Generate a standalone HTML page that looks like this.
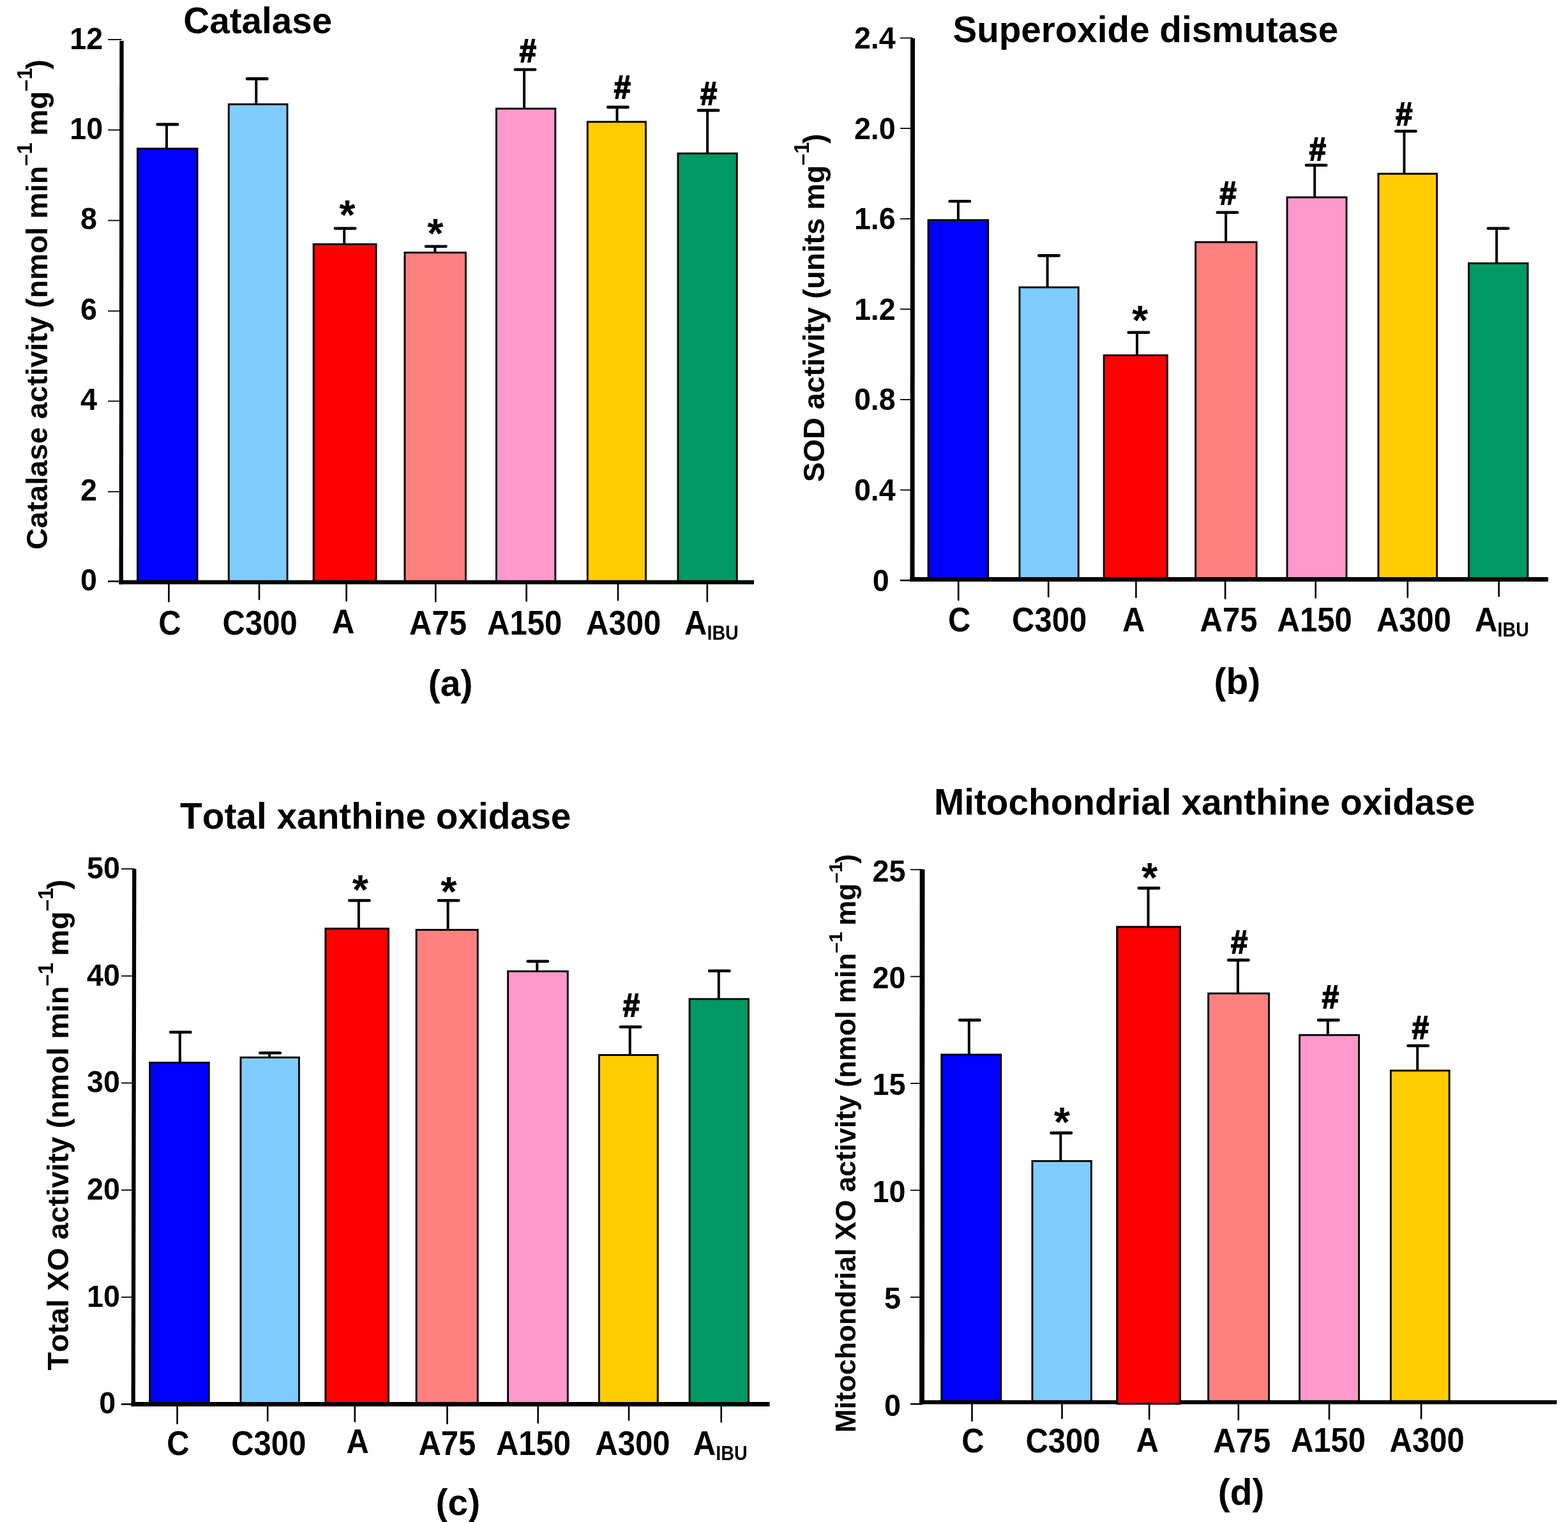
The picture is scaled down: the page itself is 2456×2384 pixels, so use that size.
<!DOCTYPE html>
<html lang="en"><head><meta charset="utf-8"><title>Antioxidant enzyme activities</title>
<style>
html,body{margin:0;padding:0;background:#fff;}
body{width:2456px;height:2384px;overflow:hidden;}
svg{display:block;}
svg text{font-family:"Liberation Sans",Arial,Helvetica,sans-serif;font-weight:bold;fill:#000;font-kerning:none;}
</style></head><body>
<svg width="2456" height="2384" viewBox="0 0 2456 2384">
<rect width="2456" height="2384" fill="#fff"/>
<g id="panel-a">
<line x1="261" y1="194.9" x2="261" y2="232.85" stroke="#000" stroke-width="4.0"/>
<line x1="246.7" y1="194.9" x2="278.1" y2="194.9" stroke="#000" stroke-width="4.6" stroke-linecap="round"/>
<rect x="215.45" y="232.85" width="93.6" height="679.15" fill="#0000ff" stroke="#000" stroke-width="2.9"/>
<line x1="401.3" y1="123.4" x2="401.3" y2="163.35" stroke="#000" stroke-width="4.0"/>
<line x1="387" y1="123.4" x2="418.4" y2="123.4" stroke="#000" stroke-width="4.6" stroke-linecap="round"/>
<rect x="358.25" y="163.35" width="91.8" height="748.65" fill="#80ccff" stroke="#000" stroke-width="2.9"/>
<line x1="539.2" y1="357.8" x2="539.2" y2="382.55" stroke="#000" stroke-width="4.0"/>
<line x1="524.9" y1="357.8" x2="556.3" y2="357.8" stroke="#000" stroke-width="4.6" stroke-linecap="round"/>
<rect x="491.15" y="382.55" width="97.9" height="529.45" fill="#ff0000" stroke="#000" stroke-width="2.9"/>
<line x1="681.4" y1="386" x2="681.4" y2="395.65" stroke="#000" stroke-width="4.0"/>
<line x1="667.1" y1="386" x2="698.5" y2="386" stroke="#000" stroke-width="4.6" stroke-linecap="round"/>
<rect x="633.95" y="395.65" width="95.5" height="516.35" fill="#ff8080" stroke="#000" stroke-width="2.9"/>
<line x1="821.1" y1="109" x2="821.1" y2="170.15" stroke="#000" stroke-width="4.0"/>
<line x1="806.8" y1="109" x2="838.2" y2="109" stroke="#000" stroke-width="4.6" stroke-linecap="round"/>
<rect x="777.45" y="170.15" width="92.4" height="741.85" fill="#ff99cc" stroke="#000" stroke-width="2.9"/>
<line x1="966.5" y1="167.9" x2="966.5" y2="190.85" stroke="#000" stroke-width="4.0"/>
<line x1="952.2" y1="167.9" x2="983.6" y2="167.9" stroke="#000" stroke-width="4.6" stroke-linecap="round"/>
<rect x="920.25" y="190.85" width="91.2" height="721.15" fill="#ffcc00" stroke="#000" stroke-width="2.9"/>
<line x1="1108.1" y1="172.9" x2="1108.1" y2="240.35" stroke="#000" stroke-width="4.0"/>
<line x1="1093.8" y1="172.9" x2="1125.2" y2="172.9" stroke="#000" stroke-width="4.6" stroke-linecap="round"/>
<rect x="1061.95" y="240.35" width="92.3" height="671.65" fill="#009966" stroke="#000" stroke-width="2.9"/>
<line x1="190.5" y1="64" x2="189.7" y2="915.15" stroke="#000" stroke-width="6.3"/>
<line x1="186.55" y1="912" x2="1181" y2="912" stroke="#000" stroke-width="6.3"/>
<line x1="169" y1="62" x2="190.5" y2="62" stroke="#000" stroke-width="1.8"/>
<text transform="translate(161.1 76.6) scale(0.9690 1)" font-size="48.2" text-anchor="end">12</text>
<line x1="169" y1="203.6" x2="190.5" y2="203.6" stroke="#000" stroke-width="1.8"/>
<text transform="translate(161.1 218) scale(0.9690 1)" font-size="48.2" text-anchor="end">10</text>
<line x1="169" y1="345.4" x2="190.5" y2="345.4" stroke="#000" stroke-width="1.8"/>
<text transform="translate(151.9 359.4) scale(0.9690 1)" font-size="48.2" text-anchor="end">8</text>
<line x1="169" y1="487.2" x2="190.5" y2="487.2" stroke="#000" stroke-width="1.8"/>
<text transform="translate(151.9 500.8) scale(0.9690 1)" font-size="48.2" text-anchor="end">6</text>
<line x1="169" y1="628.4" x2="190.5" y2="628.4" stroke="#000" stroke-width="1.8"/>
<text transform="translate(151.9 642.2) scale(0.9690 1)" font-size="48.2" text-anchor="end">4</text>
<line x1="169" y1="770.2" x2="190.5" y2="770.2" stroke="#000" stroke-width="1.8"/>
<text transform="translate(151.9 783.6) scale(0.9690 1)" font-size="48.2" text-anchor="end">2</text>
<line x1="169" y1="910.6" x2="190.5" y2="910.6" stroke="#000" stroke-width="2.6"/>
<text transform="translate(151.9 925) scale(0.9690 1)" font-size="48.2" text-anchor="end">0</text>
<line x1="264.4" y1="912" x2="264.4" y2="942.2" stroke="#000" stroke-width="2.6" stroke-linecap="round"/>
<line x1="406" y1="912" x2="406" y2="938.7" stroke="#000" stroke-width="2.6" stroke-linecap="round"/>
<line x1="542.6" y1="912" x2="542.6" y2="941" stroke="#000" stroke-width="2.6" stroke-linecap="round"/>
<line x1="682.3" y1="912" x2="682.3" y2="942.2" stroke="#000" stroke-width="2.6" stroke-linecap="round"/>
<line x1="824.6" y1="912" x2="824.6" y2="941.5" stroke="#000" stroke-width="2.6" stroke-linecap="round"/>
<line x1="968" y1="912" x2="968" y2="939.9" stroke="#000" stroke-width="2.6" stroke-linecap="round"/>
<line x1="1107.8" y1="912" x2="1107.8" y2="941.9" stroke="#000" stroke-width="2.6" stroke-linecap="round"/>
<text transform="translate(248.3 994) scale(0.9250 1)" font-size="53">C</text>
<text transform="translate(348.6 994) scale(0.9250 1)" font-size="53">C300</text>
<text transform="translate(520 992) scale(0.9250 1)" font-size="53">A</text>
<text transform="translate(641 994) scale(0.9250 1)" font-size="53">A75</text>
<text transform="translate(763 994) scale(0.9250 1)" font-size="53">A150</text>
<text transform="translate(918 994) scale(0.9250 1)" font-size="53">A300</text>
<text transform="translate(1072 994) scale(0.9250 1)" font-size="53">A<tspan font-size="31" dy="8">IBU</tspan></text>
<text transform="translate(544 359.4) scale(1.0000 1)" font-size="65" text-anchor="middle">*</text>
<text transform="translate(682 388.2) scale(1.0000 1)" font-size="65" text-anchor="middle">*</text>
<text transform="translate(826.8 97) scale(0.9400 1)" font-size="50" text-anchor="middle" stroke="#000" stroke-width="1.8">#</text>
<text transform="translate(974.8 153.8) scale(0.9400 1)" font-size="50" text-anchor="middle" stroke="#000" stroke-width="1.8">#</text>
<text transform="translate(1110 164) scale(0.9400 1)" font-size="50" text-anchor="middle" stroke="#000" stroke-width="1.8">#</text>
<text transform="translate(287.3 52.4) scale(0.9930 1)" font-size="57">Catalase</text>
<text transform="translate(74.1 860.91) rotate(-90) scale(0.9964 1)" font-size="46.8">Catalase activity (nmol min<tspan font-size="33" dy="-24">–1</tspan><tspan dy="24" dx="-2.5"> mg</tspan><tspan font-size="33" dy="-24">–1</tspan><tspan dy="24" dx="-2.5">)</tspan></text>
<text transform="translate(705.6 1089.5) scale(0.9870 1)" font-size="57.7" text-anchor="middle">(a)</text>
</g>
<g id="panel-b">
<line x1="1500.9" y1="315.2" x2="1500.9" y2="344.75" stroke="#000" stroke-width="4.0"/>
<line x1="1487.6" y1="315.2" x2="1519" y2="315.2" stroke="#000" stroke-width="4.6" stroke-linecap="round"/>
<rect x="1454.05" y="344.75" width="93.6" height="562.75" fill="#0000ff" stroke="#000" stroke-width="2.9"/>
<line x1="1640.6" y1="400.4" x2="1640.6" y2="450.05" stroke="#000" stroke-width="4.0"/>
<line x1="1627.3" y1="400.4" x2="1658.7" y2="400.4" stroke="#000" stroke-width="4.6" stroke-linecap="round"/>
<rect x="1596.95" y="450.05" width="92.3" height="457.45" fill="#80ccff" stroke="#000" stroke-width="2.9"/>
<line x1="1781" y1="520.7" x2="1781" y2="556.55" stroke="#000" stroke-width="4.0"/>
<line x1="1767.7" y1="520.7" x2="1799.1" y2="520.7" stroke="#000" stroke-width="4.6" stroke-linecap="round"/>
<rect x="1729.15" y="556.55" width="99.2" height="350.95" fill="#ff0000" stroke="#000" stroke-width="2.9"/>
<line x1="1920.1" y1="332.7" x2="1920.1" y2="379.25" stroke="#000" stroke-width="4.0"/>
<line x1="1906.8" y1="332.7" x2="1938.2" y2="332.7" stroke="#000" stroke-width="4.6" stroke-linecap="round"/>
<rect x="1872.65" y="379.25" width="95.5" height="528.25" fill="#ff8080" stroke="#000" stroke-width="2.9"/>
<line x1="2059.2" y1="258.8" x2="2059.2" y2="309.05" stroke="#000" stroke-width="4.0"/>
<line x1="2045.9" y1="258.8" x2="2077.3" y2="258.8" stroke="#000" stroke-width="4.6" stroke-linecap="round"/>
<rect x="2016.05" y="309.05" width="93" height="598.45" fill="#ff99cc" stroke="#000" stroke-width="2.9"/>
<line x1="2199.5" y1="205.5" x2="2199.5" y2="272.15" stroke="#000" stroke-width="4.0"/>
<line x1="2186.2" y1="205.5" x2="2217.6" y2="205.5" stroke="#000" stroke-width="4.6" stroke-linecap="round"/>
<rect x="2158.95" y="272.15" width="91.7" height="635.35" fill="#ffcc00" stroke="#000" stroke-width="2.9"/>
<line x1="2344.2" y1="357.8" x2="2344.2" y2="412.45" stroke="#000" stroke-width="4.0"/>
<line x1="2330.9" y1="357.8" x2="2362.3" y2="357.8" stroke="#000" stroke-width="4.6" stroke-linecap="round"/>
<rect x="2300.55" y="412.45" width="92.4" height="495.05" fill="#009966" stroke="#000" stroke-width="2.9"/>
<line x1="1429.6" y1="60" x2="1429" y2="911" stroke="#000" stroke-width="7"/>
<line x1="1425.5" y1="907.5" x2="2425" y2="907.5" stroke="#000" stroke-width="7"/>
<line x1="1410" y1="59.5" x2="1429.6" y2="59.5" stroke="#000" stroke-width="1.8"/>
<text transform="translate(1402.8 76) scale(0.9690 1)" font-size="48.2" text-anchor="end">2.4</text>
<line x1="1410" y1="201.1" x2="1429.6" y2="201.1" stroke="#000" stroke-width="1.8"/>
<text transform="translate(1402.8 217.6) scale(0.9690 1)" font-size="48.2" text-anchor="end">2.0</text>
<line x1="1410" y1="342.7" x2="1429.6" y2="342.7" stroke="#000" stroke-width="1.8"/>
<text transform="translate(1402.8 359.2) scale(0.9690 1)" font-size="48.2" text-anchor="end">1.6</text>
<line x1="1410" y1="484.3" x2="1429.6" y2="484.3" stroke="#000" stroke-width="1.8"/>
<text transform="translate(1402.8 500.8) scale(0.9690 1)" font-size="48.2" text-anchor="end">1.2</text>
<line x1="1410" y1="625.9" x2="1429.6" y2="625.9" stroke="#000" stroke-width="1.8"/>
<text transform="translate(1402.8 642.4) scale(0.9690 1)" font-size="48.2" text-anchor="end">0.8</text>
<line x1="1410" y1="767.5" x2="1429.6" y2="767.5" stroke="#000" stroke-width="1.8"/>
<text transform="translate(1402.8 784) scale(0.9690 1)" font-size="48.2" text-anchor="end">0.4</text>
<line x1="1410" y1="909.1" x2="1429.6" y2="909.1" stroke="#000" stroke-width="2.6"/>
<text transform="translate(1392.8 925.6) scale(0.9690 1)" font-size="48.2" text-anchor="end">0</text>
<line x1="1501.2" y1="907.5" x2="1501.2" y2="939.8" stroke="#000" stroke-width="2.6" stroke-linecap="round"/>
<line x1="1642.2" y1="907.5" x2="1642.2" y2="934.6" stroke="#000" stroke-width="2.6" stroke-linecap="round"/>
<line x1="1779.4" y1="907.5" x2="1779.4" y2="935.6" stroke="#000" stroke-width="2.6" stroke-linecap="round"/>
<line x1="1919.1" y1="907.5" x2="1919.1" y2="937.5" stroke="#000" stroke-width="2.6" stroke-linecap="round"/>
<line x1="2060.7" y1="907.5" x2="2060.7" y2="936.3" stroke="#000" stroke-width="2.6" stroke-linecap="round"/>
<line x1="2204.8" y1="907.5" x2="2204.8" y2="935.6" stroke="#000" stroke-width="2.6" stroke-linecap="round"/>
<line x1="2347.7" y1="907.5" x2="2347.7" y2="933.8" stroke="#000" stroke-width="2.6" stroke-linecap="round"/>
<text transform="translate(1484.9 989.2) scale(0.9250 1)" font-size="53">C</text>
<text transform="translate(1585.1 989.2) scale(0.9250 1)" font-size="53">C300</text>
<text transform="translate(1758.1 989.2) scale(0.9250 1)" font-size="53">A</text>
<text transform="translate(1879.6 989.2) scale(0.9250 1)" font-size="53">A75</text>
<text transform="translate(2000.6 989.2) scale(0.9250 1)" font-size="53">A150</text>
<text transform="translate(2155.9 989.2) scale(0.9250 1)" font-size="53">A300</text>
<text transform="translate(2310.1 989.2) scale(0.9250 1)" font-size="53">A<tspan font-size="31" dy="8">IBU</tspan></text>
<text transform="translate(1785.6 524) scale(1.0000 1)" font-size="65" text-anchor="middle">*</text>
<text transform="translate(1923.5 319.5) scale(0.9400 1)" font-size="50" text-anchor="middle" stroke="#000" stroke-width="1.8">#</text>
<text transform="translate(2063.8 250.6) scale(0.9400 1)" font-size="50" text-anchor="middle" stroke="#000" stroke-width="1.8">#</text>
<text transform="translate(2199.2 195.5) scale(0.9400 1)" font-size="50" text-anchor="middle" stroke="#000" stroke-width="1.8">#</text>
<text transform="translate(1492.4 66.4) scale(0.9930 1)" font-size="57">Superoxide dismutase</text>
<text transform="translate(1290.7 754.94) rotate(-90) scale(0.9938 1)" font-size="46.8">SOD activity (units mg<tspan font-size="33" dy="-24">–1</tspan><tspan dy="24" dx="-2.5">)</tspan></text>
<text transform="translate(1937.9 1087) scale(0.9870 1)" font-size="57.7" text-anchor="middle">(b)</text>
</g>
<g id="panel-c">
<line x1="281.8" y1="1616.7" x2="281.8" y2="1664.45" stroke="#000" stroke-width="4.0"/>
<line x1="267.1" y1="1616.7" x2="298.5" y2="1616.7" stroke="#000" stroke-width="4.6" stroke-linecap="round"/>
<rect x="234.75" y="1664.45" width="92.5" height="534.95" fill="#0000ff" stroke="#000" stroke-width="2.9"/>
<line x1="422.1" y1="1649.2" x2="422.1" y2="1656.35" stroke="#000" stroke-width="4.0"/>
<line x1="407.4" y1="1649.2" x2="438.8" y2="1649.2" stroke="#000" stroke-width="4.6" stroke-linecap="round"/>
<rect x="376.95" y="1656.35" width="91.5" height="543.05" fill="#80ccff" stroke="#000" stroke-width="2.9"/>
<line x1="561.9" y1="1410.5" x2="561.9" y2="1454.55" stroke="#000" stroke-width="4.0"/>
<line x1="547.2" y1="1410.5" x2="578.6" y2="1410.5" stroke="#000" stroke-width="4.6" stroke-linecap="round"/>
<rect x="509.85" y="1454.55" width="98.7" height="744.85" fill="#ff0000" stroke="#000" stroke-width="2.9"/>
<line x1="701.6" y1="1410.5" x2="701.6" y2="1456.45" stroke="#000" stroke-width="4.0"/>
<line x1="686.9" y1="1410.5" x2="718.3" y2="1410.5" stroke="#000" stroke-width="4.6" stroke-linecap="round"/>
<rect x="652.15" y="1456.45" width="96.1" height="742.95" fill="#ff8080" stroke="#000" stroke-width="2.9"/>
<line x1="841.3" y1="1505.8" x2="841.3" y2="1521.45" stroke="#000" stroke-width="4.0"/>
<line x1="826.6" y1="1505.8" x2="858" y2="1505.8" stroke="#000" stroke-width="4.6" stroke-linecap="round"/>
<rect x="795.65" y="1521.45" width="93.6" height="677.95" fill="#ff99cc" stroke="#000" stroke-width="2.9"/>
<line x1="986.7" y1="1608.5" x2="986.7" y2="1652.55" stroke="#000" stroke-width="4.0"/>
<line x1="972" y1="1608.5" x2="1003.4" y2="1608.5" stroke="#000" stroke-width="4.6" stroke-linecap="round"/>
<rect x="938.45" y="1652.55" width="91.8" height="546.85" fill="#ffcc00" stroke="#000" stroke-width="2.9"/>
<line x1="1125.8" y1="1520.8" x2="1125.8" y2="1564.85" stroke="#000" stroke-width="4.0"/>
<line x1="1111.1" y1="1520.8" x2="1142.5" y2="1520.8" stroke="#000" stroke-width="4.6" stroke-linecap="round"/>
<rect x="1080.05" y="1564.85" width="92.4" height="634.55" fill="#009966" stroke="#000" stroke-width="2.9"/>
<line x1="210.3" y1="1361" x2="208.7" y2="2202.9" stroke="#000" stroke-width="6.3"/>
<line x1="205.55" y1="2199.4" x2="1205.5" y2="2199.4" stroke="#000" stroke-width="7"/>
<line x1="190" y1="1361" x2="210.3" y2="1361" stroke="#000" stroke-width="1.8"/>
<text transform="translate(188 1375.8) scale(0.9690 1)" font-size="48.2" text-anchor="end">50</text>
<line x1="190" y1="1528.7" x2="210.3" y2="1528.7" stroke="#000" stroke-width="1.8"/>
<text transform="translate(188 1543.5) scale(0.9690 1)" font-size="48.2" text-anchor="end">40</text>
<line x1="190" y1="1696.4" x2="210.3" y2="1696.4" stroke="#000" stroke-width="1.8"/>
<text transform="translate(188 1711.2) scale(0.9690 1)" font-size="48.2" text-anchor="end">30</text>
<line x1="190" y1="1864.1" x2="210.3" y2="1864.1" stroke="#000" stroke-width="1.8"/>
<text transform="translate(188 1878.9) scale(0.9690 1)" font-size="48.2" text-anchor="end">20</text>
<line x1="190" y1="2031.8" x2="210.3" y2="2031.8" stroke="#000" stroke-width="1.8"/>
<text transform="translate(188 2046.6) scale(0.9690 1)" font-size="48.2" text-anchor="end">10</text>
<line x1="190" y1="2199.5" x2="210.3" y2="2199.5" stroke="#000" stroke-width="2.6"/>
<text transform="translate(181.3 2214.3) scale(0.9690 1)" font-size="48.2" text-anchor="end">0</text>
<line x1="277.6" y1="2199.4" x2="277.6" y2="2229.8" stroke="#000" stroke-width="2.6" stroke-linecap="round"/>
<line x1="419.2" y1="2199.4" x2="419.2" y2="2225.4" stroke="#000" stroke-width="2.6" stroke-linecap="round"/>
<line x1="555.8" y1="2199.4" x2="555.8" y2="2226.7" stroke="#000" stroke-width="2.6" stroke-linecap="round"/>
<line x1="700.5" y1="2199.4" x2="700.5" y2="2229.8" stroke="#000" stroke-width="2.6" stroke-linecap="round"/>
<line x1="842.7" y1="2199.4" x2="842.7" y2="2228.6" stroke="#000" stroke-width="2.6" stroke-linecap="round"/>
<line x1="985" y1="2199.4" x2="985" y2="2224.2" stroke="#000" stroke-width="2.6" stroke-linecap="round"/>
<line x1="1129.7" y1="2199.4" x2="1129.7" y2="2227.3" stroke="#000" stroke-width="2.6" stroke-linecap="round"/>
<text transform="translate(261.3 2279) scale(0.9250 1)" font-size="53">C</text>
<text transform="translate(362.2 2279) scale(0.9250 1)" font-size="53">C300</text>
<text transform="translate(542.6 2276.4) scale(0.9250 1)" font-size="53">A</text>
<text transform="translate(655.4 2279) scale(0.9250 1)" font-size="53">A75</text>
<text transform="translate(776.9 2279) scale(0.9250 1)" font-size="53">A150</text>
<text transform="translate(932.3 2279) scale(0.9250 1)" font-size="53">A300</text>
<text transform="translate(1085.8 2279) scale(0.9250 1)" font-size="53">A<tspan font-size="31" dy="8">IBU</tspan></text>
<text transform="translate(564.5 1415.7) scale(1.0000 1)" font-size="65" text-anchor="middle">*</text>
<text transform="translate(702.8 1418.9) scale(1.0000 1)" font-size="65" text-anchor="middle">*</text>
<text transform="translate(988.7 1592.2) scale(0.9400 1)" font-size="50" text-anchor="middle" stroke="#000" stroke-width="1.8">#</text>
<text transform="translate(282 1298.4) scale(0.9968 1)" font-size="57">Total xanthine oxidase</text>
<text transform="translate(106.5 2146.52) rotate(-90) scale(0.9979 1)" font-size="46.8">Total XO activity (nmol min<tspan font-size="33" dy="-24">–1</tspan><tspan dy="24" dx="-2.5"> mg</tspan><tspan font-size="33" dy="-24">–1</tspan><tspan dy="24" dx="-2.5">)</tspan></text>
<text transform="translate(717.4 2373) scale(0.9870 1)" font-size="57.7" text-anchor="middle">(c)</text>
</g>
<g id="panel-d">
<line x1="1517.8" y1="1597.9" x2="1517.8" y2="1651.95" stroke="#000" stroke-width="4.0"/>
<line x1="1503.1" y1="1597.9" x2="1534.5" y2="1597.9" stroke="#000" stroke-width="4.6" stroke-linecap="round"/>
<rect x="1474.75" y="1651.95" width="93" height="544.45" fill="#0000ff" stroke="#000" stroke-width="2.9"/>
<line x1="1661.3" y1="1774.6" x2="1661.3" y2="1818.65" stroke="#000" stroke-width="4.0"/>
<line x1="1646.6" y1="1774.6" x2="1678" y2="1774.6" stroke="#000" stroke-width="4.6" stroke-linecap="round"/>
<rect x="1616.95" y="1818.65" width="92.4" height="377.75" fill="#80ccff" stroke="#000" stroke-width="2.9"/>
<line x1="1798.5" y1="1391.1" x2="1798.5" y2="1452.05" stroke="#000" stroke-width="4.0"/>
<line x1="1783.8" y1="1391.1" x2="1815.2" y2="1391.1" stroke="#000" stroke-width="4.6" stroke-linecap="round"/>
<rect x="1749.85" y="1452.05" width="98.6" height="744.35" fill="#ff0000" stroke="#000" stroke-width="2.9"/>
<line x1="1938.9" y1="1503.9" x2="1938.9" y2="1556.05" stroke="#000" stroke-width="4.0"/>
<line x1="1924.2" y1="1503.9" x2="1955.6" y2="1503.9" stroke="#000" stroke-width="4.6" stroke-linecap="round"/>
<rect x="1892.65" y="1556.05" width="94.9" height="640.35" fill="#ff8080" stroke="#000" stroke-width="2.9"/>
<line x1="2079.8" y1="1597.9" x2="2079.8" y2="1621.25" stroke="#000" stroke-width="4.0"/>
<line x1="2065.1" y1="1597.9" x2="2096.5" y2="1597.9" stroke="#000" stroke-width="4.6" stroke-linecap="round"/>
<rect x="2035.55" y="1621.25" width="93" height="575.15" fill="#ff99cc" stroke="#000" stroke-width="2.9"/>
<line x1="2220.2" y1="1638" x2="2220.2" y2="1676.95" stroke="#000" stroke-width="4.0"/>
<line x1="2205.5" y1="1638" x2="2236.9" y2="1638" stroke="#000" stroke-width="4.6" stroke-linecap="round"/>
<rect x="2178.35" y="1676.95" width="91.8" height="519.45" fill="#ffcc00" stroke="#000" stroke-width="2.9"/>
<line x1="1444.6" y1="1361.7" x2="1444" y2="2199.5" stroke="#000" stroke-width="7.8"/>
<line x1="1440.1" y1="2196.4" x2="2438.5" y2="2196.4" stroke="#000" stroke-width="6.2"/>
<rect x="1749.85" y="1452.05" width="98.6" height="746.8" fill="#ff0000" stroke="#000" stroke-width="2.9"/>
<line x1="1426" y1="1362.2" x2="1444.6" y2="1362.2" stroke="#000" stroke-width="1.8"/>
<text transform="translate(1418.4 1380.5) scale(0.9690 1)" font-size="48.2" text-anchor="end">25</text>
<line x1="1426" y1="1529.6" x2="1444.6" y2="1529.6" stroke="#000" stroke-width="1.8"/>
<text transform="translate(1418.4 1547.9) scale(0.9690 1)" font-size="48.2" text-anchor="end">20</text>
<line x1="1426" y1="1697" x2="1444.6" y2="1697" stroke="#000" stroke-width="1.8"/>
<text transform="translate(1418.4 1715.3) scale(0.9690 1)" font-size="48.2" text-anchor="end">15</text>
<line x1="1426" y1="1864.4" x2="1444.6" y2="1864.4" stroke="#000" stroke-width="1.8"/>
<text transform="translate(1418.4 1882.7) scale(0.9690 1)" font-size="48.2" text-anchor="end">10</text>
<line x1="1426" y1="2031.8" x2="1444.6" y2="2031.8" stroke="#000" stroke-width="1.8"/>
<text transform="translate(1411 2050.1) scale(0.9690 1)" font-size="48.2" text-anchor="end">5</text>
<line x1="1426" y1="2199.2" x2="1444.6" y2="2199.2" stroke="#000" stroke-width="2.6"/>
<text transform="translate(1411 2217.5) scale(0.9690 1)" font-size="48.2" text-anchor="end">0</text>
<line x1="1522.5" y1="2196.4" x2="1522.5" y2="2225.4" stroke="#000" stroke-width="2.6" stroke-linecap="round"/>
<line x1="1663.5" y1="2196.4" x2="1663.5" y2="2221.5" stroke="#000" stroke-width="2.6" stroke-linecap="round"/>
<line x1="1800.1" y1="2196.4" x2="1800.1" y2="2222.8" stroke="#000" stroke-width="2.6" stroke-linecap="round"/>
<line x1="1939.8" y1="2196.4" x2="1939.8" y2="2223.8" stroke="#000" stroke-width="2.6" stroke-linecap="round"/>
<line x1="2082" y1="2196.4" x2="2082" y2="2222.8" stroke="#000" stroke-width="2.6" stroke-linecap="round"/>
<line x1="2226.1" y1="2196.4" x2="2226.1" y2="2222" stroke="#000" stroke-width="2.6" stroke-linecap="round"/>
<text transform="translate(1506.2 2274.8) scale(0.9250 1)" font-size="53">C</text>
<text transform="translate(1606.4 2274.8) scale(0.9250 1)" font-size="53">C300</text>
<text transform="translate(1779.4 2274) scale(0.9250 1)" font-size="53">A</text>
<text transform="translate(1900.3 2275.4) scale(0.9250 1)" font-size="53">A75</text>
<text transform="translate(2021.9 2274.3) scale(0.9250 1)" font-size="53">A150</text>
<text transform="translate(2176.6 2274) scale(0.9250 1)" font-size="53">A300</text>
<text transform="translate(1800.7 1396.6) scale(1.0000 1)" font-size="65" text-anchor="middle">*</text>
<text transform="translate(1663.5 1780) scale(1.0000 1)" font-size="65" text-anchor="middle">*</text>
<text transform="translate(1941 1492.8) scale(0.9400 1)" font-size="50" text-anchor="middle" stroke="#000" stroke-width="1.8">#</text>
<text transform="translate(2083.9 1578.8) scale(0.9400 1)" font-size="50" text-anchor="middle" stroke="#000" stroke-width="1.8">#</text>
<text transform="translate(2224.9 1627) scale(0.9400 1)" font-size="50" text-anchor="middle" stroke="#000" stroke-width="1.8">#</text>
<text transform="translate(1463 1275.7) scale(0.9948 1)" font-size="57">Mitochondrial xanthine oxidase</text>
<text transform="translate(1340.4 2243.95) rotate(-90) scale(1.0057 1)" font-size="43.8">Mitochondrial XO activity (nmol min<tspan font-size="30" dy="-21">–1</tspan><tspan dy="21" dx="-2.5"> mg</tspan><tspan font-size="30" dy="-21">–1</tspan><tspan dy="21" dx="-2.5">)</tspan></text>
<text transform="translate(1944.2 2357.3) scale(0.9870 1)" font-size="57.7" text-anchor="middle">(d)</text>
</g>
</svg>
</body></html>
